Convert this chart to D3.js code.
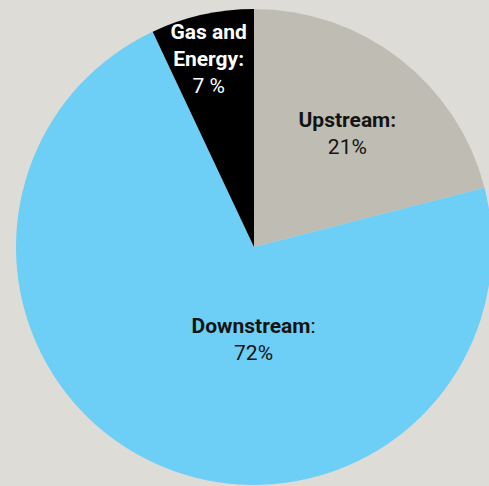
<!DOCTYPE html>
<html lang="en">
<head>
  <script src="https://d3js.org/d3.v7.min.js"></script>
  <style>
    body { margin: 0; background: #dddcd6; }
    svg { display: block; }
    text { font-family: Roboto, "DejaVu Sans", sans-serif; }
  </style>
</head>
<body>
  <div class="chart"></div>
<script>
  // segment data
  const segments = ['Upstream', 'Downstream', 'Gas and Energy'];
  const shares = [21, 72, 7];
  const shareLabels = ['21%', '72%', '7 %'];
  const colors = ['#bebcb3', '#6dcef6', '#000000'];

  const width = 489, height = 486;
  const cx = 254, cy = 247, radius = 238;

  const svg = d3.select('.chart')
    .append('svg')
    .attr('width', width)
    .attr('height', height);

  const g = svg.append('g')
    .attr('transform', `translate(${cx},${cy})`);

  const data = segments.map((s, i) => ({ name: s, value: shares[i], label: shareLabels[i], color: colors[i] }));

  const pie = d3.pie().sort(null).value(d => d.value);
  const arc = d3.arc().innerRadius(0).outerRadius(radius);

  const arcs = pie(data);

  g.selectAll('path')
    .data(arcs)
    .enter()
    .append('path')
    .attr('d', arc)
    .attr('fill', d => d.data.color);

  // where each label sits: angle (deg from top) and distance from centre
  const labelSpots = [[37.9, 152], [180.3, 86], [347.7, 213]];
  // title parts: [text, bold]; leading \n starts a new line
  const titleLines = [
    [['Upstream:', true]],
    [['Downstream', true], [':', false]],
    [['Gas and', true], ['\nEnergy:', true]]
  ];
  const lineGap = 27;

  arcs.forEach((d, i) => {
    const a = labelSpots[i][0] * Math.PI / 180, r = labelSpots[i][1];
    const x = Math.sin(a) * r, y = -Math.cos(a) * r;
    const dark = d.data.color === '#000000';
    const fill = dark ? '#ffffff' : '#141414';
    const t = g.append('text')
      .attr('x', x)
      .attr('y', y)
      .attr('text-anchor', 'middle')
      .attr('fill', fill)
      .style('font-size', '21px');

    titleLines[i].forEach((p, j) => {
      const isNew = p[0].startsWith('\n');
      const sp = t.append('tspan')
        .text(p[0].replace('\n', ''))
        .style('font-weight', p[1] ? 'bold' : 'normal');
      if (j === 0 || isNew) {
        sp.attr('x', x).attr('dy', j === 0 ? 0 : lineGap);
      }
    });
    t.append('tspan')
      .attr('x', x)
      .attr('dy', lineGap)
      .style('font-weight', 'normal')
      .text(d.data.label);
  });
</script>
</body>
</html>
